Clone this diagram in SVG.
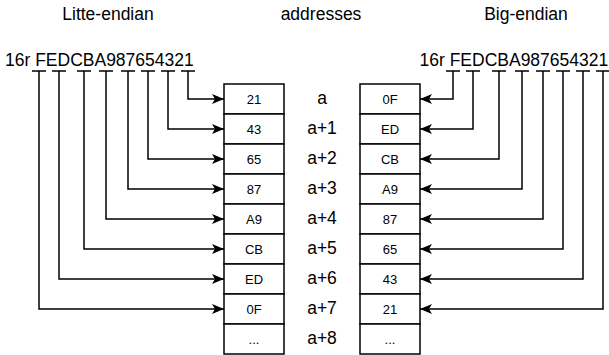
<svg xmlns="http://www.w3.org/2000/svg" width="609" height="355" viewBox="0 0 609 355">
<style>
text{font-family:"Liberation Sans",Arial,sans-serif;fill:#000}
.lbl{font-size:17.5px}
.val{font-size:13px;text-anchor:middle}
.mid{text-anchor:middle}
rect{fill:#fff;stroke:#000;stroke-width:1.5}
.c path{fill:none;stroke:#000;stroke-width:1.5}
</style>
<defs>
<marker id="ah" markerUnits="userSpaceOnUse" markerWidth="14" markerHeight="12" viewBox="0 0 14 12" refX="13" refY="6" orient="auto">
<path d="M1,1 L13,6 L1,11 L4,6 Z" fill="#000" stroke="none"/>
</marker>
</defs>
<g id="title-little"><text class="lbl mid" x="108" y="20">Litte-endian</text></g>
<g id="title-addresses"><text class="lbl mid" x="321" y="20">addresses</text></g>
<g id="title-big"><text class="lbl mid" x="526" y="20">Big-endian</text></g>
<g id="value-left"><text class="lbl" x="5" y="66">16r FEDCBA987654321</text></g>
<g id="value-right"><text class="lbl" x="419.5" y="66">16r FEDCBA987654321</text></g>

<g id="connectors" class="c">
<path d="M32,71 H46 M52,71 H66 M77,71 H91 M99,71 H113 M121,71 H135 M141,71 H155 M161,71 H175 M181,71 H195"/>
<path d="M446,71 H460 M466,71 H480 M492,71 H506 M515,71 H529 M536,71 H550 M556,71 H570 M576,71 H590 M596,71 H609"/>
<path d="M188,71 V99 H224" marker-end="url(#ah)"/>
<path d="M168,71 V129 H224" marker-end="url(#ah)"/>
<path d="M148,71 V159 H224" marker-end="url(#ah)"/>
<path d="M128,71 V189 H224" marker-end="url(#ah)"/>
<path d="M106,71 V219 H224" marker-end="url(#ah)"/>
<path d="M84,71 V249 H224" marker-end="url(#ah)"/>
<path d="M59,71 V279 H224" marker-end="url(#ah)"/>
<path d="M39,71 V309 H224" marker-end="url(#ah)"/>
<path d="M453,71 V99 H420" marker-end="url(#ah)"/>
<path d="M473,71 V129 H420" marker-end="url(#ah)"/>
<path d="M499,71 V159 H420" marker-end="url(#ah)"/>
<path d="M522,71 V189 H420" marker-end="url(#ah)"/>
<path d="M543,71 V219 H420" marker-end="url(#ah)"/>
<path d="M563,71 V249 H420" marker-end="url(#ah)"/>
<path d="M583,71 V279 H420" marker-end="url(#ah)"/>
<path d="M603,71 V309 H420" marker-end="url(#ah)"/>
</g>

<g id="L0"><rect x="224" y="84" width="60" height="30"/><text class="val" x="254" y="104">21</text></g>
<g id="L1"><rect x="224" y="114" width="60" height="30"/><text class="val" x="254" y="134">43</text></g>
<g id="L2"><rect x="224" y="144" width="60" height="30"/><text class="val" x="254" y="164">65</text></g>
<g id="L3"><rect x="224" y="174" width="60" height="30"/><text class="val" x="254" y="194">87</text></g>
<g id="L4"><rect x="224" y="204" width="60" height="30"/><text class="val" x="254" y="224">A9</text></g>
<g id="L5"><rect x="224" y="234" width="60" height="30"/><text class="val" x="254" y="254">CB</text></g>
<g id="L6"><rect x="224" y="264" width="60" height="30"/><text class="val" x="254" y="284">ED</text></g>
<g id="L7"><rect x="224" y="294" width="60" height="30"/><text class="val" x="254" y="314">0F</text></g>
<g id="L8"><rect x="224" y="324" width="60" height="30"/><text class="val" x="254" y="344">...</text></g>

<g id="R0"><rect x="360" y="84" width="60" height="30"/><text class="val" x="390" y="104">0F</text></g>
<g id="R1"><rect x="360" y="114" width="60" height="30"/><text class="val" x="390" y="134">ED</text></g>
<g id="R2"><rect x="360" y="144" width="60" height="30"/><text class="val" x="390" y="164">CB</text></g>
<g id="R3"><rect x="360" y="174" width="60" height="30"/><text class="val" x="390" y="194">A9</text></g>
<g id="R4"><rect x="360" y="204" width="60" height="30"/><text class="val" x="390" y="224">87</text></g>
<g id="R5"><rect x="360" y="234" width="60" height="30"/><text class="val" x="390" y="254">65</text></g>
<g id="R6"><rect x="360" y="264" width="60" height="30"/><text class="val" x="390" y="284">43</text></g>
<g id="R7"><rect x="360" y="294" width="60" height="30"/><text class="val" x="390" y="314">21</text></g>
<g id="R8"><rect x="360" y="324" width="60" height="30"/><text class="val" x="390" y="344">...</text></g>

<g id="addr">
<text class="lbl mid" x="322" y="104">a</text>
<text class="lbl mid" x="322" y="134">a+1</text>
<text class="lbl mid" x="322" y="164">a+2</text>
<text class="lbl mid" x="322" y="194">a+3</text>
<text class="lbl mid" x="322" y="224">a+4</text>
<text class="lbl mid" x="322" y="254">a+5</text>
<text class="lbl mid" x="322" y="284">a+6</text>
<text class="lbl mid" x="322" y="314">a+7</text>
<text class="lbl mid" x="322" y="344">a+8</text>
</g>
</svg>
